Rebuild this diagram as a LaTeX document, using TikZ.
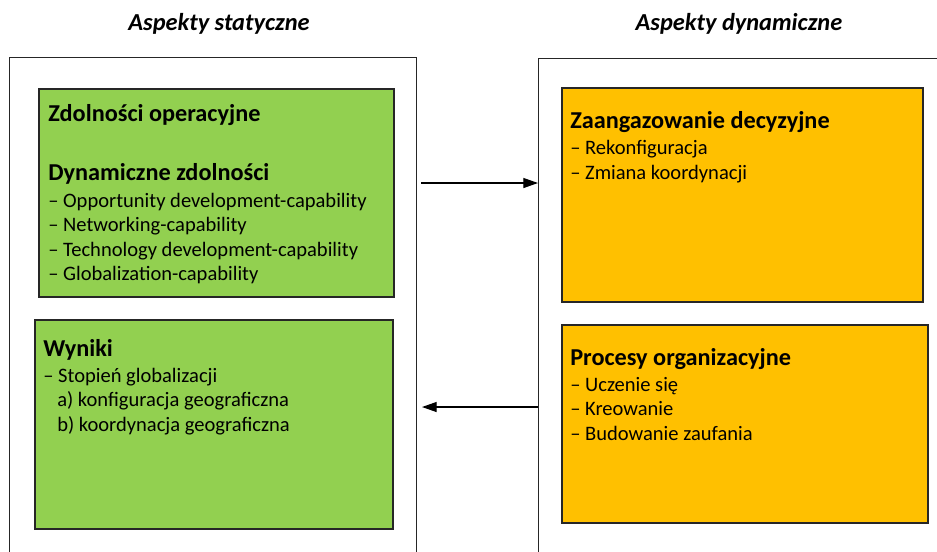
\documentclass[tikz,border=0pt]{standalone}
\usepackage{fontspec}
\setmainfont{Carlito}
\usetikzlibrary{arrows.meta}
\definecolor{zielony}{HTML}{92D050}
\definecolor{pomarancz}{HTML}{FFC000}
\tikzset{ramka/.style = {draw=black!85, line width=0.9pt, anchor=north west, inner sep=0pt},
         pole/.style = {draw=black!85, line width=1.2pt, anchor=north west, inner sep=0pt},
         txt/.style = {anchor=base west, inner sep=0pt, font=\fontsize{15.4}{18}\selectfont},
         naglowek/.style = {anchor=base west, inner sep=0pt, font=\fontsize{18.2}{21}\selectfont\bfseries},
         tytul/.style = {anchor=base, inner sep=0pt, font=\fontsize{18.3}{21}\selectfont\bfseries\itshape},
         strz/.style = {-{Triangle[length=11pt,width=7.5pt]}, line width=0.9pt}}

\begin{document}
\begin{tikzpicture}[x=0.75pt, y=-0.75pt]
\useasboundingbox (0,0) rectangle (937,551);
\clip (0,0) rectangle (937,551);
\fill[white] (0,0) rectangle (937,551);
% naglowki kolumn
\node[tytul] (tytS) at (219,30) {Aspekty statyczne};
\node[tytul] (tytD) at (739,30) {Aspekty dynamiczne};
% ramki zewnetrzne
\node[ramka, minimum width=305.25pt, minimum height=407.25pt] (stat) at (9,57) {};
\node[ramka, minimum width=339pt, minimum height=406.5pt] (dyn) at (538,58) {};
% pola
\node[pole, fill=zielony, minimum width=266.25pt, minimum height=156pt] (zdol) at (38,88) {};
\node[pole, fill=zielony, minimum width=268.5pt, minimum height=156.75pt] (wyn) at (34,319) {};
\node[pole, fill=pomarancz, minimum width=270.75pt, minimum height=160.5pt] (zaang) at (561,87) {};
\node[pole, fill=pomarancz, minimum width=274.5pt, minimum height=148.5pt] (proc) at (561,324) {};
% teksty
\node[naglowek] (zdolT) at (48,121) {Zdolności operacyjne};
\node[naglowek] (dynT) at (48,180) {Dynamiczne zdolności};
\foreach \t [count=\i] in {Opportunity development-capability, Networking-capability,
                           Technology development-capability, Globalization-capability}
  \node[txt] (zd\i) at (48,207+24.6*\i-24.6) {– \t};
\node[naglowek] (wynT) at (43,356) {Wyniki};
\node[txt] (wy1) at (43,382) {– Stopień globalizacji};
\node[txt] (wy2) at (57,406.5) {a) konfiguracja geograficzna};
\node[txt] (wy3) at (57,431) {b) koordynacja geograficzna};
\node[naglowek] (zaT) at (570,128) {Zaangazowanie decyzyjne};
\node[txt] (za1) at (570,154) {– Rekonfiguracja};
\node[txt] (za2) at (570,179) {– Zmiana koordynacji};
\node[naglowek] (prT) at (570,365) {Procesy organizacyjne};
\foreach \t [count=\i] in {Uczenie się, Kreowanie, Budowanie zaufania}
  \node[txt] (pr\i) at (570,391+24.6*\i-24.6) {– \t};
% strzalki
\coordinate (a1) at (421,183);
\coordinate (a2) at (422,407);
\draw[strz] (a1) -- (a1 -| dyn.west);
\draw[strz] (a2 -| dyn.west) -- (a2);
\end{tikzpicture}
\end{document}
